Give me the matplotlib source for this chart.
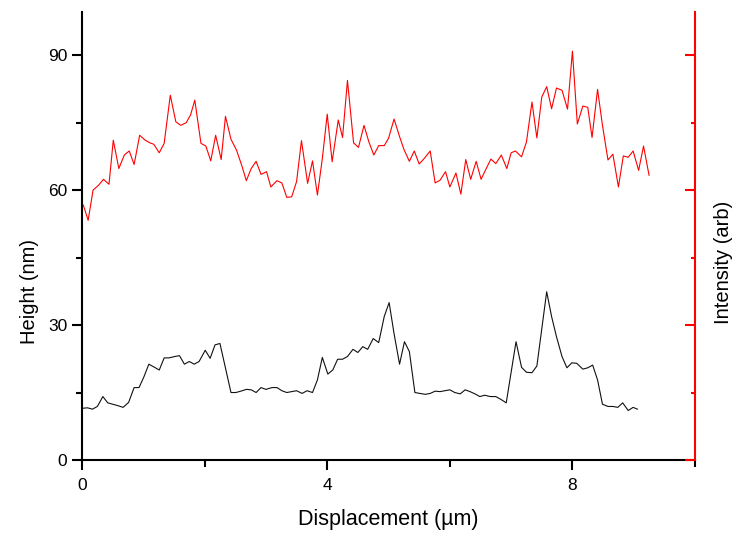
import matplotlib
matplotlib.use("Agg")
import matplotlib.pyplot as plt
from matplotlib.ticker import MultipleLocator, NullFormatter

plt.rcParams["font.family"] = ["Liberation Sans", "DejaVu Sans"]

# height profile (nm)
height_x = [0.01, 0.09, 0.17, 0.25, 0.34, 0.42, 0.50, 0.58, 0.67, 0.76,
            0.85, 0.93, 1.01, 1.09, 1.17, 1.26, 1.34, 1.42, 1.51, 1.59,
            1.67, 1.75, 1.83, 1.91, 2.01, 2.09, 2.17, 2.25, 2.43, 2.51,
            2.59, 2.68, 2.76, 2.84, 2.92, 3.00, 3.10, 3.18, 3.26, 3.34,
            3.42, 3.50, 3.59, 3.67, 3.76, 3.84, 3.92, 4.01, 4.09, 4.17,
            4.25, 4.33, 4.42, 4.50, 4.58, 4.66, 4.75, 4.84, 4.93, 5.01,
            5.09, 5.18, 5.26, 5.34, 5.43, 5.51, 5.60, 5.68, 5.76, 5.84,
            5.92, 6.00, 6.08, 6.17, 6.25, 6.33, 6.41, 6.49, 6.57, 6.66,
            6.75, 6.83, 6.92, 7.08, 7.17, 7.25, 7.34, 7.42, 7.58, 7.66,
            7.74, 7.83, 7.91, 7.99, 8.07, 8.17, 8.25, 8.33, 8.41, 8.49,
            8.58, 8.66, 8.74, 8.82, 8.91, 8.99, 9.06]
height_nm = [11.5, 11.6, 11.3, 11.9, 14.1, 12.7, 12.4, 12.1, 11.7, 12.8,
             16.1, 16.1, 18.5, 21.3, 20.7, 20.0, 22.7, 22.7, 23.0, 23.2,
             21.3, 21.9, 21.3, 21.9, 24.4, 22.6, 25.6, 25.9, 15.0, 15.0,
             15.3, 15.7, 15.6, 15.0, 16.1, 15.7, 16.1, 16.1, 15.4, 15.0,
             15.2, 15.4, 14.8, 15.4, 15.0, 17.8, 22.8, 19.1, 20.0, 22.4,
             22.4, 23.0, 24.6, 23.9, 25.2, 24.6, 27.0, 26.1, 31.9, 35.0,
             28.1, 21.3, 26.3, 24.1, 15.0, 14.8, 14.6, 14.8, 15.3, 15.2,
             15.4, 15.6, 15.0, 14.7, 15.6, 15.2, 14.7, 14.1, 14.4, 14.1,
             14.1, 13.5, 12.7, 26.3, 20.6, 19.5, 19.4, 20.9, 37.4, 31.9,
             27.4, 23.0, 20.5, 21.6, 21.5, 20.2, 20.5, 21.1, 17.8, 12.4,
             11.9, 11.9, 11.7, 12.7, 11.0, 11.7, 11.3]

# intensity profile (arb)
intensity_x = [0.02, 0.10, 0.18, 0.27, 0.35, 0.44, 0.51, 0.60, 0.69, 0.77,
               0.85, 0.94, 1.03, 1.11, 1.17, 1.26, 1.34, 1.44, 1.53, 1.61,
               1.70, 1.77, 1.84, 1.94, 2.02, 2.10, 2.18, 2.27, 2.34, 2.43,
               2.52, 2.61, 2.68, 2.76, 2.84, 2.92, 3.01, 3.08, 3.18, 3.26,
               3.34, 3.42, 3.50, 3.58, 3.68, 3.76, 3.84, 3.92, 4.00, 4.08,
               4.18, 4.25, 4.33, 4.43, 4.51, 4.60, 4.68, 4.76, 4.84, 4.93,
               5.00, 5.09, 5.18, 5.25, 5.34, 5.42, 5.50, 5.58, 5.68, 5.76,
               5.84, 5.93, 6.00, 6.10, 6.18, 6.26, 6.34, 6.43, 6.51, 6.59,
               6.67, 6.75, 6.84, 6.93, 7.00, 7.07, 7.17, 7.25, 7.34, 7.42,
               7.50, 7.58, 7.66, 7.74, 7.83, 7.92, 8.00, 8.08, 8.17, 8.25,
               8.32, 8.41, 8.49, 8.58, 8.66, 8.75, 8.83, 8.91, 8.99, 9.08,
               9.16, 9.25]
intensity = [56.7, 53.3, 60.0, 61.1, 62.4, 61.3, 71.1, 64.8, 67.8, 68.7,
             65.7, 72.2, 71.1, 70.5, 70.2, 68.3, 70.4, 81.1, 75.2, 74.4,
             75.0, 76.7, 80.0, 70.4, 69.8, 66.5, 72.2, 66.8, 76.4, 71.3,
             68.9, 65.3, 62.1, 64.8, 66.4, 63.5, 64.1, 60.7, 62.1, 61.6,
             58.4, 58.5, 61.9, 71.0, 61.5, 66.5, 58.9, 67.0, 76.9, 66.3,
             75.6, 71.7, 84.4, 70.5, 69.5, 74.4, 70.7, 67.8, 69.9, 69.9,
             71.5, 75.8, 71.9, 69.1, 66.4, 68.7, 65.8, 67.0, 68.7, 61.6,
             62.2, 64.1, 60.7, 63.8, 59.1, 66.8, 62.4, 66.4, 62.4, 64.7,
             66.9, 65.9, 67.8, 64.8, 68.3, 68.7, 67.4, 70.7, 79.6, 71.6,
             80.7, 83.0, 78.1, 82.7, 82.2, 78.0, 90.9, 74.7, 78.7, 78.4,
             71.7, 82.4, 74.4, 66.7, 68.0, 60.7, 67.6, 67.3, 68.7, 64.4,
             69.8, 63.3]

fig = plt.figure(figsize=(7.33, 5.34), dpi=100)
ax = fig.add_axes([0.1119, 0.1386, 0.8363, 0.8389])
ax2 = ax.twinx()

ax.plot(height_x, height_nm, color="#111111", lw=0.8)
ax2.plot(intensity_x, intensity, color="#ff0000", lw=0.8)

ax.set_xlim(0, 10)
ax.set_ylim(0, 99.6)
ax2.set_ylim(0, 99.6)

ax.xaxis.set_major_locator(MultipleLocator(4))
ax.xaxis.set_minor_locator(MultipleLocator(2))
ax.yaxis.set_major_locator(MultipleLocator(30))
ax.yaxis.set_minor_locator(MultipleLocator(15))
ax2.yaxis.set_major_locator(MultipleLocator(30))
ax2.yaxis.set_minor_locator(MultipleLocator(15))
ax2.yaxis.set_major_formatter(NullFormatter())

for a in (ax, ax2):
    a.spines["top"].set_visible(False)
    for s in a.spines.values():
        s.set_linewidth(1.5)

ax.spines["right"].set_visible(False)
ax2.spines["left"].set_visible(False)
ax2.spines["bottom"].set_visible(False)
ax2.spines["right"].set_color("#ff0000")

ax.tick_params(which="major", direction="out", length=7, width=1.5, labelsize=12.5)
ax.tick_params(axis="x", which="major", pad=6)
ax.tick_params(which="minor", direction="out", length=4, width=1.5)
ax.tick_params(axis="x", which="minor", length=5)
ax2.tick_params(which="major", direction="in", length=7, width=1.5, color="#ff0000")
ax2.tick_params(which="minor", direction="in", length=3, width=1.5, color="#ff0000")

ax.set_xlabel("Displacement (µm)", fontsize=15.5)
ax.set_ylabel("Height (nm)", fontsize=14.5)
ax2.set_ylabel("Intensity (arb)", fontsize=14.5)
# label anchors sit on the edge of the text nearest the axes
ax.xaxis.set_label_coords(0.5, -0.109)
ax.yaxis.set_label_coords(-0.070, 0.377)
ax2.yaxis.set_label_coords(1.031, 0.442)

fig.savefig("out.png", dpi=100)
